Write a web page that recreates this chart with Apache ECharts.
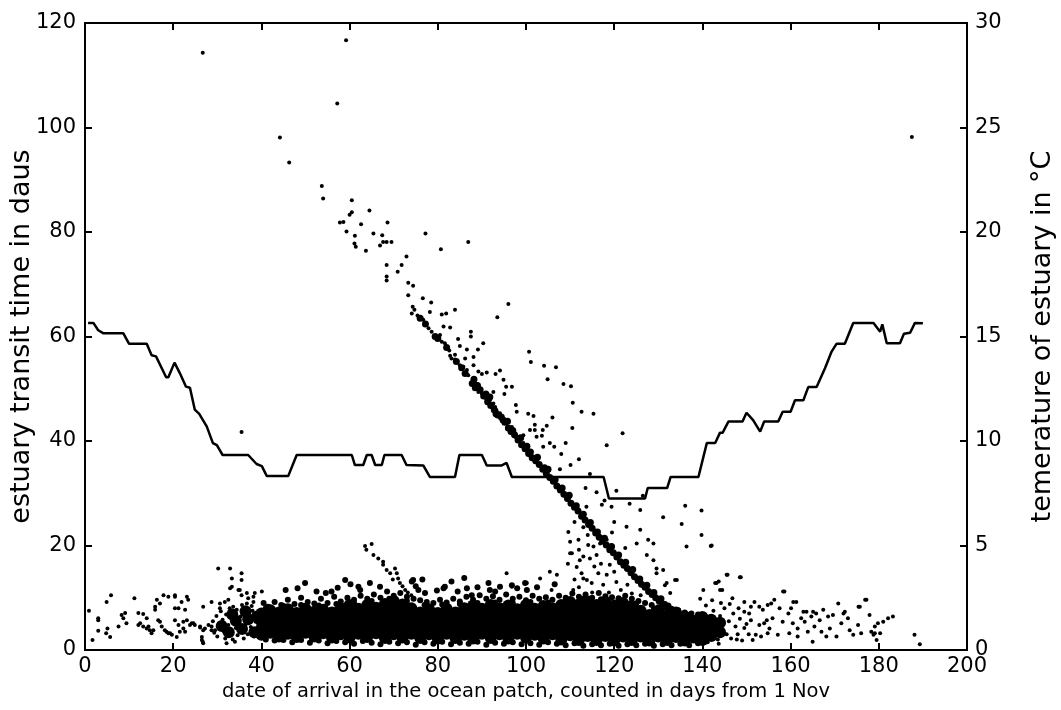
<!DOCTYPE html>
<html>
<head>
<meta charset="utf-8">
<script src="https://cdn.jsdelivr.net/npm/echarts@6/dist/echarts.min.js"></script>
<style>
  html, body { margin: 0; padding: 0; background: #fff; }
  #chart { width: 1061px; height: 710px; }
</style>
</head>
<body>
<div id="chart"></div>
<script>
// temperature of the estuary (right axis, deg C) against day
var tempLine = [[0.7,15.65],[1.9,15.65],[3.0,15.3],[4.2,15.15],[8.7,15.15],[10.0,14.65],[14.0,14.65],[15.1,14.1],[16.1,14.05],[18.4,13.05],[18.9,13.05],[20.3,13.75],[21.5,13.25],[22.9,12.6],[23.8,12.55],[24.9,11.5],[25.9,11.3],[27.6,10.7],[29.0,9.9],[29.9,9.8],[31.2,9.33],[37.0,9.33],[38.9,8.9],[40.1,8.8],[41.2,8.33],[46.1,8.33],[48.0,9.33],[60.5,9.33],[61.2,8.85],[63.1,8.85],[63.9,9.33],[65.0,9.33],[65.8,8.85],[67.3,8.85],[67.9,9.33],[71.8,9.33],[72.9,8.85],[76.7,8.83],[78.2,8.28],[83.9,8.28],[84.9,9.33],[90.0,9.33],[91.1,8.83],[94.5,8.83],[95.6,8.95],[96.8,8.28],[117.6,8.28],[118.8,7.25],[127.0,7.25],[127.6,7.75],[132.0,7.75],[132.8,8.28],[139.1,8.28],[141.0,9.9],[142.9,9.9],[144.0,10.4],[144.6,10.4],[145.9,10.93],[149.1,10.93],[150.0,11.35],[151.5,11.0],[153.1,10.45],[154.0,10.93],[157.2,10.93],[158.2,11.4],[160.0,11.4],[161.0,11.95],[162.9,11.95],[164.0,12.58],[165.9,12.58],[167.8,13.48],[169.3,14.28],[170.4,14.65],[172.3,14.65],[174.2,15.65],[178.8,15.65],[180.3,15.23],[180.8,15.58],[181.8,14.68],[184.8,14.68],[185.7,15.13],[187.1,15.18],[188.2,15.65],[190.0,15.63]];

// dense core of the transit-time cloud (read as blobs)
var bandCore = [
[31,4.6],[32.6,3.4],[34.2,5.6],[35.6,4.0],[37,5.9],[38.4,3.4],[36.4,7.4],[33.4,6.8],[39,6.4],
[40,2.9],[40,4.1],[40,5.5],[40,7.0],[42,3.3],[42,4.8],[42,6.3],[42,7.6],[44,2.6],[44,4.0],[44,5.7],[44,7.2],[46,3.1],[46,4.9],[46,6.5],[46,7.8],
[48,2.5],[48,4.2],[48,5.6],[48,7.1],[50,3.3],[50,4.7],[50,6.4],[50,7.9],[52,2.6],[52,4.0],[52,5.5],[52,7.3],[54,3.2],[54,4.9],[54,6.2],[54,7.7],
[56,2.4],[56,4.1],[56,5.7],[56,7.2],[58,3.0],[58,4.6],[58,6.4],[58,8.0],[60,2.4],[60,3.9],[60,5.6],[60,7.3],[60,8.6],[62,3.1],[62,4.8],[62,6.3],[62,7.9],
[64,2.5],[64,4.1],[64,5.5],[64,7.1],[64,8.6],[66,3.2],[66,4.7],[66,6.5],[66,8.1],[68,2.3],[68,4.0],[68,5.6],[68,7.2],[68,8.8],[70,3.0],[70,4.9],[70,6.3],[70,7.9],[70,9.4],
[72,2.4],[72,3.9],[72,5.7],[72,7.3],[72,8.7],[74,3.1],[74,4.7],[74,6.4],[74,8.0],[76,2.3],[76,4.0],[76,5.5],[76,7.2],[78,3.0],[78,4.8],[78,6.2],[78,7.8],
[80,2.2],[80,3.9],[80,5.6],[80,7.1],[82,3.1],[82,4.6],[82,6.3],[82,7.9],[84,2.3],[84,4.0],[84,5.5],[84,7.2],[86,2.9],[86,4.8],[86,6.4],[86,8.0],
[88,2.2],[88,3.9],[88,5.7],[88,7.2],[88,8.5],[90,3.1],[90,4.7],[90,6.2],[90,7.9],[92,2.3],[92,4.1],[92,5.6],[92,7.3],[92,8.6],[94,3.0],[94,4.6],[94,6.4],[94,8.0],
[96,2.2],[96,3.8],[96,5.5],[96,7.1],[96,8.5],[98,3.1],[98,4.8],[98,6.3],[98,7.8],[100,2.4],[100,4.0],[100,5.6],[100,7.2],[100,8.6],[102,2.9],[102,4.7],[102,6.2],[102,7.9],
[104,2.2],[104,3.9],[104,5.5],[104,7.3],[104,8.4],[106,3.0],[106,4.8],[106,6.4],[106,8.0],[108,2.0],[108,3.7],[108,5.4],[108,7.0],[108,8.6],[110,2.8],[110,4.5],[110,6.2],[110,7.9],[110,9.2],
[112,1.9],[112,3.6],[112,5.3],[112,7.0],[112,8.7],[114,2.7],[114,4.4],[114,6.1],[114,7.8],[114,9.3],[116,1.9],[116,3.5],[116,5.2],[116,6.9],[116,8.6],[118,2.7],[118,4.3],[118,6.0],[118,7.7],[118,9.2],
[120,1.8],[120,3.5],[120,5.2],[120,6.8],[120,8.5],[122,2.6],[122,4.3],[122,5.9],[122,7.6],[122,9.0],[124,1.9],[124,3.4],[124,5.1],[124,6.8],[124,8.4],[126,2.6],[126,4.2],[126,5.9],[126,7.5],
[128,1.8],[128,3.5],[128,5.1],[128,6.7],[130,2.6],[130,4.2],[130,5.8],[130,7.4],[132,1.9],[132,3.4],[132,5.0],[132,6.6],[134,2.5],[134,4.1],[134,5.7],[134,7.2],
[136,1.8],[136,3.3],[136,4.9],[136,6.4],[138,2.4],[138,4.0],[138,5.6],[140,1.9],[140,3.4],[140,5.0],[140,6.3],[142,2.7],[142,4.2],[142,5.8],[144,3.4],[144,5.2]
];

// ragged upper and lower edges of the cloud
var bandEdge = [
[40.5,9.0],[41.5,8.3],[43,9.2],[44.5,8.6],[46,9.6],[47.5,8.8],[49,10.0],[50.5,9.2],[52,8.9],[53.5,9.8],[55,9.0],[56.5,10.2],[58,9.3],[59.5,10.0],[61,9.6],[62.5,10.4],[64,9.8],[65.5,10.6],[67,10.0],[68.5,11.2],[70,10.4],[71.5,10.9],[73,10.2],[74.5,9.8],[76,9.5],[77.5,9.2],[79,9.0],[80.5,9.6],[82,9.1],[83.5,9.8],[85,9.3],[86.5,10.2],[88,9.6],[89.5,10.5],[91,9.8],[92.5,10.3],[94,9.6],[95.5,10.6],[97,9.8],[98.5,10.2],[100,9.5],[101.5,10.4],[103,9.8],[104.5,10.1],[106,9.6],[107.5,10.4],[109,10.0],[110.5,10.8],[112,10.2],[113.5,10.6],[115,10.0],[116.5,10.9],[118,10.3],[119.5,10.1],[121,9.9],[122.5,10.4],[124,9.8],[125.5,9.4],[127,9.0],[128.5,8.6],[130,8.2],[131.5,8.8],[133,7.9],[134.5,7.6],[136,7.2],[137.5,7.0],[139,6.8],
[41,8.0],[45,8.4],[49,8.6],[53,8.5],[57,8.8],[61,9.0],[65,9.4],[69,9.8],[73,9.4],[77,8.6],[81,8.7],[85,8.8],[89,9.0],[93,9.1],[97,9.0],[101,9.2],[105,9.1],[109,9.5],[113,9.8],[117,9.7],[121,9.6],[125,8.9],[129,8.0],[133,7.6],[137,6.6],
[45.5,11.5],[48.2,11.8],[54.6,10.9],[57.3,11.9],[60.2,12.6],[75,12.2],[79.8,11.4],[84.5,11.2],[89,12.0],[98,11.8],[102.5,12.0],[106.5,12.6],[76.5,13.5],[86,13.8],[93,11.2],
[49.9,12.8],[52.5,11.2],[55.9,11.2],[59.0,13.4],[62.0,12.1],[62.4,11.5],[64.6,12.8],[66.9,12.1],[74.1,13.1],[75.6,11.5],[77.1,10.9],[81.6,12.1],[83.1,13.1],[86.6,11.8],[87.7,10.5],[91.5,12.8],[91.8,11.5],[94.1,12.1],[96.8,12.4],[99.8,12.8],[100.2,11.5],[81.3,11.8],[74.4,13.4],
[41,2.0],[43,1.8],[45,1.9],[47,1.5],[49,1.9],[51,1.4],[53,1.8],[55,1.3],[57,1.7],[59,1.5],[61,1.2],[63,1.7],[65,1.4],[67,1.1],[69,1.6],[71,1.3],[73,1.5],[75,1.0],[77,1.5],[79,1.2],[81,1.6],[83,1.1],[85,1.4],[87,1.2],[89,1.6],[91,1.0],[93,1.4],[95,1.2],[97,1.5],[99,1.1],[101,1.3],[103,1.0],[105,1.5],[107,1.2],[109,0.9],[111,1.3],[113,0.8],[115,1.1],[117,0.9],[119,1.2],[121,0.8],[123,1.1],[125,0.9],[127,1.2],[129,0.8],[131,1.1],[133,0.9],[135,1.2],[137,0.9],[139,1.3]
];

// the long diagonal streak
var streak = [
[87.8,51.0],[88.5,50.2],[89.6,49.8],[90.4,48.6],[91.3,47.5],[92.0,46.8],[92.8,46.0],[93.6,45.0],[94.4,44.6],[95.2,43.6],[96.0,42.5],[96.6,41.8],[97.4,41.2],[98.2,40.2],[99.0,39.3],[99.8,38.5],[100.6,37.6],[101.4,36.8],[102.2,36.2],[103.0,35.5],[103.8,34.6],[104.6,33.8],[105.4,33.0],[106.2,32.3],[107.0,31.4],[107.8,30.6],[108.6,29.8],[109.4,29.0],[110.2,28.1],[111.0,27.3],[111.8,26.6],[112.6,25.6],[113.4,24.9],[114.2,24.0],[115.0,23.3],[115.8,22.4],[116.6,21.6],[117.4,20.8],[118.2,20.1],[119.0,19.2],[119.8,18.6],[120.6,17.8],[121.4,16.9],[122.2,16.2],[123.0,15.6],[123.8,14.8],[124.6,14.0],[125.4,13.3],[126.2,12.6],[127.0,12.0],[127.8,11.2],[128.6,10.6],[129.4,10.0],[130.2,9.4],[131.0,8.8],[131.8,8.2],[132.6,7.5],[133.4,6.8],[134.2,6.2],[135.0,5.6],[135.8,5.0],[136.6,4.4],[137.4,3.8],
[88.2,51.8],[89.0,50.6],[90.9,49.0],[91.8,48.4],[93.2,45.2],[94.8,44.0],[95.8,43.8],[97.0,42.0],[98.8,40.6],[100.2,39.0],[101.0,37.9],[102.6,36.9],[104.2,34.9],[105.0,34.6],[106.6,32.6],[108.2,31.0],[109.8,29.6],[111.4,27.6],[113.0,26.0],[114.6,24.4],[116.2,22.6],[117.8,21.4],[119.4,19.8],[121.0,18.2],[122.6,16.8],[124.2,15.4],[125.8,13.6],[127.4,12.4],[129.0,11.0],[130.6,9.8],[132.2,8.4],[133.8,7.2],
[76.0,63.5],[77.2,62.4],[79.4,60.0],[80.0,59.6],[82.0,57.9],[84.2,55.2],[85.4,54.0],[86.2,52.9]
];

// single scattered fish
var sparse = [
[26.7,114.3],[59.2,116.7],[57.2,104.6],[44.2,98.1],[46.3,93.3],[187.5,98.2],[53.7,88.8],[54.0,86.4],[60.5,86.1],[60.5,83.8],[60.0,83.3],[57.8,81.8],[58.6,81.9],[64.5,84.1],[62.6,81.5],[68.6,81.8],[59.3,80.1],[61.2,79.3],[61.1,77.8],[61.4,77.2],[65.4,79.7],[67.4,79.4],[67.6,78.1],[68.4,78.1],[69.5,78.1],[66.9,77.4],[63.7,76.4],[77.2,79.7],[80.7,76.7],[86.9,78.1],[72.9,75.3],[71.8,73.7],[68.4,73.7],[68.4,71.5],[68.4,70.7],[70.9,72.4],
[73.3,70.3],[74.4,69.7],[73.3,67.9],[76.6,67.3],[78.5,66.5],[74.3,65.7],[74.7,65.1],[74.1,64.4],[75.4,64.0],[78.2,64.7],[83.9,65.1],[96.0,66.2],[80.9,64.2],[81.9,64.4],[76.7,63.2],[93.5,63.7],[77.9,61.6],[78.6,60.9],[81.3,61.9],[82.8,61.7],[80.5,60.3],[80.9,59.0],[81.6,58.7],[87.5,60.9],[87.5,60.0],[84.6,59.5],[90.3,58.7],[85.0,58.2],[86.6,57.5],[89.1,57.5],[82.6,57.3],[82.8,56.3],[83.9,56.5],[83.1,55.8],[83.9,55.6],[88.1,56.1],[86.2,55.8],[100.7,57.1],
[85.0,54.5],[85.8,54.2],[86.6,53.6],[86.9,52.6],[88.1,54.5],[89.2,53.3],[90.0,52.8],[91.1,53.1],[94.1,53.5],[93.1,52.8],[101.1,55.1],[104.1,54.4],[106.8,54.1],[104.9,51.8],[88.1,51.2],[88.8,50.9],[94.9,51.7],[95.5,50.4],[96.8,50.4],[108.5,50.9],[110.2,50.5],[89.2,49.4],[90.0,49.1],[90.9,48.2],[91.8,47.8],[92.6,47.2],[92.6,49.4],[95.1,49.0],[97.7,46.9],[110.6,47.3],[93.0,46.5],[93.3,45.9],[94.1,45.3],[94.9,44.0],[95.6,43.4],[97.9,45.6],[100.5,45.2],[101.7,44.8],
[96.8,42.7],[97.2,41.5],[97.5,40.8],[98.6,40.8],[99.4,41.1],[99.4,39.6],[100.5,38.9],[102.0,43.1],[102.0,42.1],[100.9,42.1],[103.8,42.1],[104.7,42.9],[103.6,41.0],[102.4,40.8],[103.9,38.9],[105.4,39.6],[106.4,38.9],[109.0,39.6],[118.3,39.2],[121.9,41.5],[112.6,45.6],[115.3,45.2],[35.5,41.7],
[110.1,35.4],[107.7,34.6],[114.5,33.7],[112.0,36.5],[113.5,31.0],[116.0,30.2],[117.8,28.6],[119.4,27.4],[117.2,27.8],[113.7,27.4],[122.8,23.6],[125.9,23.0],[125.9,26.8],[127.7,21.1],[128.9,20.4],[129.6,15.6],[134.2,13.4],[131.5,12.4],[136.1,27.6],[139.8,26.7],[131.1,25.4],[135.3,24.1],[139.8,22.0],[142.1,20.0],[136.4,19.8],[120.5,30.5],[123.5,28.0],[126.5,29.5],[110.5,42.5],[106.0,44.5],[108.0,37.5],[120.0,24.5],
[109.6,22.6],[110.0,20.7],[111.9,21.1],[114.1,20.1],[115.3,19.8],[116.8,20.4],[118.3,21.1],[110.0,18.5],[113.0,17.9],[114.5,17.5],[116.0,18.2],[111.5,15.9],[112.6,14.7],[113.0,13.7],[113.8,13.4],[114.9,12.8],[116.4,14.7],[118.3,14.4],[119.0,16.3],[125.1,20.4],[127.4,18.2],[128.9,17.2],[129.6,14.7],[131.9,12.8],[132.7,10.9],[141.9,19.9],[133.8,13.4],[131.1,15.3],[145.5,14.4],[148.5,13.9],[143.2,12.8],[140.2,11.5],[144.0,11.5],[95.6,14.7],[96.8,12.1],[100.2,12.8],[103.2,13.7],[105.4,15.0],[107.0,14.4],[105.8,11.5],[110.7,11.5],[110.4,18.5],[112.2,17.2],[113.0,23.5],[111.0,24.5],[112.0,19.2],[115.5,16.0],[117.5,12.5],[120.5,13.0],[121.5,11.5],[115.0,11.0],[112.0,12.0],[118.8,11.0],[123.0,12.5],[124.0,10.8],[126.0,10.5],[111.0,13.5],[117.0,16.5],[120.0,15.0],[114.0,22.0],[109.5,16.5],[119.5,22.5],[122.5,19.5],
[63.5,19.9],[65.0,20.3],[65.4,18.2],[66.5,17.5],[67.6,16.9],[67.6,16.3],[68.4,15.3],[69.2,14.7],[70.3,15.6],[70.7,14.7],[71.0,13.7],[71.4,12.8],[72.6,11.5],[73.2,11.0],[72.0,12.2],[74.0,10.5],[69.8,13.5],[63.8,19.2],
[0.9,7.5],[1.7,1.9],[3.0,5.7],[3.0,3.7],[3.0,6.1],[4.9,9.2],[5.9,10.5],[5.1,4.1],[5.7,2.5],[4.8,3.2],[7.6,4.5],[8.3,6.7],[9.1,7.1],[9.4,5.1],[8.7,6.1],[11.2,9.9],[12.1,7.1],[13.2,6.9],[14.0,6.1],[12.5,5.1],[14.4,4.5],[15.5,3.8],[15.9,8.3],[16.3,9.6],[17.8,10.5],[18.9,10.2],[16.6,5.7],[17.4,4.5],[18.1,3.8],[18.9,3.2],[19.7,2.9],[12.1,4.8],[13.2,4.5],[14.0,4.1],[14.7,3.8],[15.1,3.2],[17.0,5.4],[15.9,7.7],[17.0,8.9],[20.4,10.2],
[20.4,10.5],[21.9,9.2],[23.4,9.6],[22.7,7.7],[20.4,5.7],[21.2,4.8],[22.3,4.1],[22.7,3.5],[23.1,5.7],[24.2,5.1],[24.9,4.8],[26.1,4.3],[26.8,3.8],[28.0,4.8],[28.7,3.8],[26.5,1.9],[26.8,1.3],[28.7,9.2],[30.6,8.0],[31.7,9.2],[18.5,3.5],[19.3,3.2],[20.8,2.5],[21.5,3.5],[20.4,8.0],[21.2,8.0],[23.1,10.2],[22.3,5.4],[23.8,4.8],[24.6,5.1],[26.1,4.5],[27.2,4.1],[28.7,4.5],[29.5,3.8],[26.5,2.5],[26.8,8.3],
[30.2,15.6],[32.9,15.6],[33.3,13.7],[35.5,14.7],[35.5,13.4],[33.3,12.1],[34.8,11.5],[35.5,10.5],[37.0,9.9],[38.5,10.9],[40.1,11.2],[32.9,11.8],[35.1,11.5],[36.7,10.9],[38.2,10.2],[30.6,8.9],[32.5,9.6],[33.6,8.3],[34.4,7.7],[36.7,8.9],[38.2,9.2],[26.7,1.6],[32.1,1.3],[34.0,1.6],
[29.0,5.5],[29.8,6.5],[30.5,4.5],[31.2,5.8],[31.5,3.5],[32.0,6.8],[32.5,4.8],[33.0,3.2],[33.4,5.6],[33.8,7.0],[34.2,4.2],[34.6,2.8],[35.0,5.2],[35.3,6.4],[35.8,3.8],[36.2,7.2],[36.5,5.0],[36.9,3.0],[37.3,6.0],[37.6,4.4],[38.0,7.5],[38.3,2.6],[38.7,5.4],[39.0,3.6],[39.3,6.8],[30.0,2.6],[31.8,2.2],[34.0,6.0],[36.0,2.2],[37.8,8.4],[29.3,3.3],[32.8,8.0],[35.6,8.6],[33.5,2.0],[30.8,7.4],
[140.5,2.5],[141.0,4.0],[141.5,6.0],[142.0,3.0],[142.5,7.5],[143.0,5.0],[143.5,2.0],[144.0,6.5],[144.5,4.0],[145.0,8.0],[145.5,3.0],[146.0,5.5],[146.5,2.2],[147.0,7.0],[147.5,4.5],[148.0,3.0],[148.5,6.0],[149.0,1.8],[149.5,4.2],[150.0,5.0],[150.5,3.0],[140.8,8.5],[142.2,9.5],[144.2,9.0],[146.2,8.8],[148.2,8.0],[141.2,1.5],[139.5,9.8],[143.7,1.2],[147.8,2.0],[150.6,7.0],
[142.9,12.8],[143.7,13.1],[144.5,11.5],[145.7,14.4],[148.7,13.9],[146.8,9.9],[149.5,9.2],[149.5,7.3],[151.0,8.3],[151.8,9.2],[152.9,8.3],[153.7,7.7],[154.8,8.6],[155.6,8.9],[156.3,9.6],[157.5,8.0],[158.6,11.2],[159.5,7.0],[160.1,8.0],[161.3,9.2],[162.4,6.1],[163.6,7.3],[164.7,6.4],[165.8,7.0],[166.6,5.7],[167.4,7.7],[168.5,6.4],[169.6,6.7],[170.8,8.9],[172.3,7.3],[173.0,6.1],[174.2,2.9],[175.7,8.3],[177.2,9.6],[177.9,6.7],[179.1,4.5],[179.8,5.1],[181.0,5.4],[182.1,6.1],[183.2,6.4],[188.1,2.9],[189.3,1.1],
[151.4,1.9],[152.1,2.9],[153.3,2.6],[154.8,3.2],[157.1,2.9],[159.7,3.2],[161.6,2.6],[165.0,1.6],[168.1,2.6],[170.4,2.6],[176.0,3.2],[179.1,3.2],[178.8,2.9],[180.3,3.2],[179.5,1.9],
[151.0,5.7],[152.9,4.8],[154.0,5.1],[155.2,4.1],[155.9,6.1],[158.2,5.4],[160.5,5.1],[161.6,4.1],[163.2,5.4],[163.9,3.5],[165.4,4.5],[167.0,3.5],[168.9,4.1],[171.5,5.1],[173.4,3.8],[175.3,4.8],[178.3,3.5],[154.6,5.7],[158.3,11.2],[160.6,9.2],[162.9,7.3],[165.1,7.3],[172.0,7.0],[176.9,9.6],[175.4,8.3]
];

var xTicks = { min: 0, max: 200, step: 20 };
var yLeftTicks = { min: 0, max: 120, step: 20 };
var yRightTicks = { min: 0, max: 30, step: 5 };

var chartDom = document.getElementById('chart');
var myChart = echarts.init(chartDom, null, { renderer: 'canvas' });
var option;

var font = 'DejaVu Sans';
var black = '#000';
var axisLine = { show: true, onZero: false, lineStyle: { color: black, width: 2 } };
var axisTick = { show: true, inside: true, length: 7, lineStyle: { color: black, width: 2 } };
var dot = { color: black, opacity: 1 };

option = {
  backgroundColor: '#fff',
  animation: false,
  grid: {
    left: 85, right: 94, top: 23, bottom: 60,
    containLabel: false, outerBoundsMode: 'none',
    show: true, borderColor: black, borderWidth: 2
  },
  xAxis: [
    {
      type: 'value', position: 'bottom',
      min: xTicks.min, max: xTicks.max, interval: xTicks.step,
      axisLine: axisLine, axisTick: axisTick,
      axisLabel: { color: black, fontSize: 21, fontFamily: font, margin: 6 },
      splitLine: { show: false },
      name: 'date of arrival in the ocean patch, counted in days from 1 Nov',
      nameLocation: 'middle', nameGap: 32, nameMoveOverlap: false,
      nameTextStyle: { color: black, fontSize: 19.5, fontFamily: font }
    },
    {
      type: 'value', position: 'top',
      min: xTicks.min, max: xTicks.max, interval: xTicks.step,
      axisLine: axisLine, axisTick: axisTick,
      axisLabel: { show: false }, splitLine: { show: false }
    }
  ],
  yAxis: [
    {
      type: 'value', position: 'left',
      min: yLeftTicks.min, max: yLeftTicks.max, interval: yLeftTicks.step,
      axisLine: axisLine, axisTick: axisTick,
      axisLabel: { color: black, fontSize: 21, fontFamily: font, margin: 9 },
      splitLine: { show: false },
      name: 'estuary transit time in daus',
      nameLocation: 'middle', nameRotate: 90, nameGap: 50, nameMoveOverlap: false,
      nameTextStyle: { color: black, fontSize: 27, fontFamily: font }
    },
    {
      type: 'value', position: 'right',
      min: yRightTicks.min, max: yRightTicks.max, interval: yRightTicks.step,
      axisLine: axisLine, axisTick: axisTick,
      axisLabel: { color: black, fontSize: 21, fontFamily: font, margin: 8 },
      splitLine: { show: false },
      name: 'temerature of estuary in °C',
      nameLocation: 'middle', nameRotate: 90, nameGap: 62, nameMoveOverlap: false,
      nameTextStyle: { color: black, fontSize: 27, fontFamily: font }
    }
  ],
  series: [
    {
      type: 'scatter', name: 'core', data: bandCore,
      symbol: 'circle', symbolSize: 12, itemStyle: dot, silent: true
    },
    {
      type: 'scatter', name: 'edge', data: bandEdge,
      symbol: 'circle', symbolSize: 6, itemStyle: dot, silent: true
    },
    {
      type: 'scatter', name: 'streak', data: streak,
      symbol: 'circle', symbolSize: 7, itemStyle: dot, silent: true
    },
    {
      type: 'scatter', name: 'sparse', data: sparse,
      symbol: 'circle', symbolSize: 4, itemStyle: dot, silent: true
    },
    {
      type: 'line', name: 'temperature', data: tempLine,
      yAxisIndex: 1, showSymbol: false, symbol: 'none',
      lineStyle: { color: black, width: 2.5 }, silent: true
    }
  ]
};

option && myChart.setOption(option);
</script>
</body>
</html>
